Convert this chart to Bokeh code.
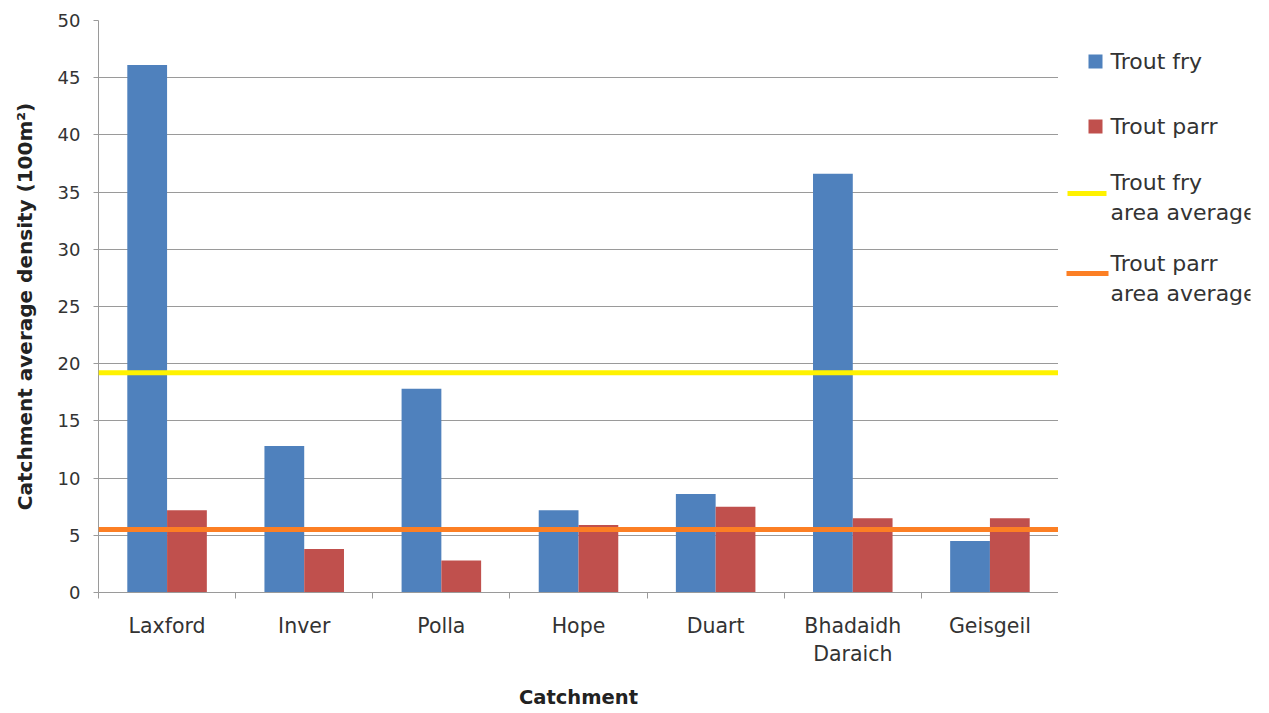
from bokeh.plotting import figure
from bokeh.layouts import row
from bokeh.models import (Range1d, FixedTicker, SingleIntervalTicker, Span,
                          ColumnDataSource)
from bokeh.core.properties import value
from bokeh.embed import file_html
from bokeh.resources import INLINE

# Survey data
catchments = ["Laxford", "Inver", "Polla", "Hope", "Duart", "Bhadaidh\nDaraich", "Geisgeil"]
trout_fry = [46.1, 12.8, 17.8, 7.2, 8.6, 36.6, 4.5]
trout_parr = [7.2, 3.8, 2.8, 5.9, 7.5, 6.5, 6.5]
fry_area_average = 19.2
parr_area_average = 5.5

FRY_COLOR = "#4F81BD"
PARR_COLOR = "#C0504D"
FRY_AVG_COLOR = "#FFF200"
PARR_AVG_COLOR = "#FC7F24"
TEXT_COLOR = "#333333"
GRID_COLOR = "#9A9A9A"
FONT = "DejaVu Sans"

PAGE_H = 713
FRAME_TOP = 20
FRAME_BOTTOM = 592

n = len(catchments)
centers = [i + 0.5 for i in range(n)]
bar_w = 0.29

src = ColumnDataSource(dict(
    x_fry=[c - bar_w / 2 for c in centers],
    x_parr=[c + bar_w / 2 for c in centers],
    fry=trout_fry,
    parr=trout_parr,
))

p = figure(width=1058, height=PAGE_H, output_backend="svg", toolbar_location=None,
           x_range=Range1d(0, n), y_range=Range1d(0, 50),
           min_border_left=98, min_border_right=0, min_border_top=FRAME_TOP,
           min_border_bottom=PAGE_H - FRAME_BOTTOM)
p.outline_line_color = None
p.background_fill_color = "white"
p.border_fill_color = "white"

p.vbar(x="x_fry", top="fry", width=bar_w, bottom=0, source=src,
       fill_color=FRY_COLOR, line_color=None)
p.vbar(x="x_parr", top="parr", width=bar_w, bottom=0, source=src,
       fill_color=PARR_COLOR, line_color=None)

p.add_layout(Span(location=fry_area_average, dimension="width",
                  line_color=FRY_AVG_COLOR, line_width=5))
p.add_layout(Span(location=parr_area_average, dimension="width",
                  line_color=PARR_AVG_COLOR, line_width=5))

# x axis: labels at category centres, tick marks at category boundaries
xa = p.xaxis[0]
xa.ticker = FixedTicker(ticks=centers, minor_ticks=list(range(n + 1)))
xa.major_label_overrides = {c: name for c, name in zip(centers, catchments)}
xa.major_tick_in = 0
xa.major_tick_out = 0
xa.minor_tick_in = 0
xa.minor_tick_out = 6
xa.minor_tick_line_color = GRID_COLOR
xa.axis_line_color = GRID_COLOR
xa.major_label_text_font = FONT
xa.major_label_text_font_size = "20.5px"
xa.major_label_text_color = TEXT_COLOR
xa.major_label_standoff = 15
xa.axis_label = "Catchment"
xa.axis_label_text_font = FONT
xa.axis_label_text_font_size = "19.5px"
xa.axis_label_text_font_style = "bold"
xa.axis_label_text_color = "#222222"
xa.axis_label_standoff = 17

ya = p.yaxis[0]
ya.ticker = SingleIntervalTicker(interval=5)
ya.minor_tick_line_color = None
ya.major_tick_in = 0
ya.major_tick_out = 5
ya.major_tick_line_color = GRID_COLOR
ya.axis_line_color = GRID_COLOR
ya.major_label_text_font = FONT
ya.major_label_text_font_size = "18px"
ya.major_label_text_color = TEXT_COLOR
ya.major_label_standoff = 13
ya.axis_label = "Catchment average density (100m\u00b2)"
ya.axis_label_text_font = FONT
ya.axis_label_text_font_size = "20px"
ya.axis_label_text_font_style = "bold"
ya.axis_label_text_color = "#222222"
ya.axis_label_standoff = 18

p.xgrid.grid_line_color = None
p.ygrid.grid_line_color = GRID_COLOR
p.ygrid.ticker = SingleIntervalTicker(interval=5)

# Legend panel: its own small figure; the row lines its frame up with the
# chart's frame, so its y range is given in page pixels
leg = figure(title=None, width=211, height=PAGE_H, output_backend="svg",
             toolbar_location=None, x_axis_location=None, y_axis_location=None,
             x_range=Range1d(0, 192), y_range=Range1d(FRAME_BOTTOM, FRAME_TOP),
             min_border=0, min_border_right=19, min_border_top=FRAME_TOP,
             min_border_bottom=PAGE_H - FRAME_BOTTOM)
leg.grid.visible = False
leg.outline_line_color = None
leg.border_fill_color = "white"

leg.rect(x=[37, 37], y=[61, 126], width=14, height=14,
         fill_color=[FRY_COLOR, PARR_COLOR], line_color=None)
leg.segment(x0=[9, 8], y0=[193, 273], x1=[48, 50], y1=[193, 273],
            line_color=[FRY_AVG_COLOR, PARR_AVG_COLOR], line_width=5)
leg.text(x=[52] * 6, y=[61, 126, 182, 212, 263, 293],
         text=["Trout fry", "Trout parr", "Trout fry", "area average",
               "Trout parr", "area average"],
         text_font=value(FONT), text_font_size="22px", text_color=TEXT_COLOR,
         text_align="left", text_baseline="middle")

layout = row(p, leg, spacing=0)
open("out.html", "w").write(file_html(layout, INLINE))
